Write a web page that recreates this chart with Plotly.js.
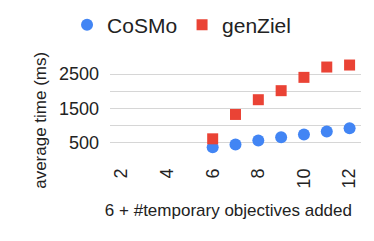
<!DOCTYPE html>
<html>
<head>
<meta charset="utf-8">
<script src="https://cdn.plot.ly/plotly-3.0.1.min.js"></script>
<style>html,body{margin:0;padding:0;background:#fff;}#chart{width:374px;height:241px;}</style>
</head>
<body>
<div id="chart"></div>
<script>
const xValues = [6, 7, 8, 9, 10, 11, 12];
const cosmoTimes = [372, 450, 567, 664, 742, 830, 926];
const genZielTimes = [617, 1327, 1756, 2019, 2407, 2708, 2766];
const xTickVals = [2, 4, 6, 8, 10, 12];
const yTickVals = [500, 1000, 1500, 2000, 2500, 3000];
const yTickText = ['500', '', '1500', '', '2500', ''];

const FONT = 'Liberation Sans, Arial, sans-serif';

const traces = [
  {
    name: 'CoSMo', type: 'scatter', mode: 'markers',
    x: xValues, y: cosmoTimes,
    marker: {color: '#4285F4', size: 12, symbol: 'circle'}
  },
  {
    name: 'genZiel', type: 'scatter', mode: 'markers',
    x: xValues, y: genZielTimes,
    marker: {color: '#EA4335', size: 11, symbol: 'square'}
  }
];

const layout = {
  width: 374, height: 241,
  margin: {l: 110, r: 13, t: 57, b: 81, autoexpand: false},
  paper_bgcolor: '#fff', plot_bgcolor: '#fff',
  font: {family: FONT, color: '#222', size: 17},
  showlegend: true,
  legend: {
    orientation: 'h', x: 0.285, xanchor: 'center', y: 1.31, yanchor: 'middle',
    font: {family: FONT, size: 21, color: '#222'},
    itemwidth: 30, tracegroupgap: 0
  },
  xaxis: {
    range: [1.5, 12.5],
    tickvals: xTickVals,
    tickangle: -90,
    showgrid: false, zeroline: false, showline: false, ticks: '',
    tickfont: {family: FONT, size: 18, color: '#222'},
    ticklabelstandoff: 4,
    title: {text: '6 + #temporary objectives added&nbsp;&nbsp;&nbsp;', font: {family: FONT, size: 17, color: '#222'}, standoff: 16}
  },
  yaxis: {
    range: [0, 3000],
    tickvals: yTickVals, ticktext: yTickText,
    showgrid: true, gridcolor: '#d6d6d6', gridwidth: 1,
    zeroline: false, showline: false, ticks: '',
    tickfont: {family: FONT, size: 18, color: '#222'},
    ticklabelstandoff: 10,
    title: {text: 'average time (ms)&nbsp;&nbsp;&nbsp;&nbsp;&nbsp;', font: {family: FONT, size: 17, color: '#222'}, standoff: 8}
  }
};

Plotly.newPlot('chart', traces, layout, {displayModeBar: false, staticPlot: true});
</script>
</body>
</html>
